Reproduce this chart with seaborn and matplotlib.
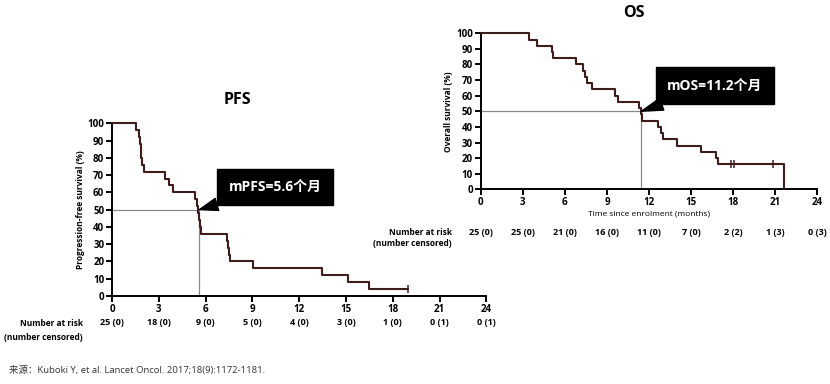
import matplotlib
matplotlib.use('Agg')
import matplotlib.pyplot as plt
import seaborn as sns
import pandas as pd

# PFS curve (months, % surviving)
pfs_time = [0, 1.55, 1.75, 1.78, 1.85, 1.87, 1.9, 2.03, 3.38, 3.64, 3.92,
            5.3, 5.42, 5.52, 5.6, 5.65, 5.72, 7.35, 7.45, 7.52, 7.58,
            9.06, 13.45, 15.14, 16.5, 19.0]
pfs_surv = [100, 96, 92, 88, 84, 80, 76, 72, 68, 64, 60,
            56, 52, 48, 44, 40, 36, 32, 28, 24, 20,
            16, 12, 8, 4, 4]
pfs_cens_time = [19.0]
pfs_cens_surv = [4]
pfs_median = 5.6
pfs_risk = ['25 (0)', '18 (0)', '9 (0)', '5 (0)', '4 (0)', '3 (0)', '1 (0)', '0 (1)', '0 (1)']

# OS curve
os_time = [0, 3.47, 4.04, 5.1, 5.13, 6.8, 7.32, 7.44, 7.6, 7.96, 9.58, 9.81,
           11.31, 11.4, 11.48, 12.67, 12.86, 13.02, 14.02, 15.68, 16.75, 16.94, 21.63]
os_surv = [100, 96, 92, 88, 84, 80, 76, 72, 68, 64, 60, 56,
           52, 48, 44, 40, 36, 32, 28, 24, 20, 16, 0]
os_cens_time = [17.85, 18.06, 20.87]
os_cens_surv = [16, 16, 16]
os_median = 11.45
os_risk = ['25 (0)', '25 (0)', '21 (0)', '16 (0)', '11 (0)', '7 (0)', '2 (2)', '1 (3)', '0 (3)']

ticks = [0, 3, 6, 9, 12, 15, 18, 21, 24]
yticks = [0, 10, 20, 30, 40, 50, 60, 70, 80, 90, 100]

sns.set_style('ticks')
plt.rcParams['font.family'] = ['Open Sans', 'Noto Sans CJK SC', 'DejaVu Sans']
plt.rcParams.update({'text.color': 'black', 'axes.labelcolor': 'black',
                     'xtick.color': 'black', 'ytick.color': 'black',
                     'axes.edgecolor': 'black'})

line_col = '#3e1c1c'
fig = plt.figure(figsize=(8.3, 3.84), dpi=100)
ax_pfs = fig.add_axes([0.1349, 0.2292, 0.4512, 0.4497])
ax_os = fig.add_axes([0.5792, 0.507, 0.4055, 0.4063])


def km_panel(ax, t, s, ct, cs, med, ylab, label, box_xy):
    df = pd.DataFrame({'t': t, 's': s})
    sns.lineplot(data=df, x='t', y='s', drawstyle='steps-post', color=line_col,
                 lw=1.5, ax=ax, clip_on=False, zorder=3)
    sns.scatterplot(x=ct, y=cs, marker='|', s=30, color=line_col, linewidth=1.1,
                    ax=ax, clip_on=False, zorder=3)
    ax.plot([0, med], [50, 50], color='#8a8a8a', lw=0.9, zorder=2)
    ax.plot([med, med], [0, 50], color='#8a8a8a', lw=0.9, zorder=2)
    ax.set_xlim(0, 24)
    ax.set_ylim(0, 100)
    ax.set_xticks(ticks)
    ax.set_yticks(yticks)
    ax.set_xlabel('')
    ax.set_ylabel(ylab, fontsize=6, fontweight='bold')
    ax.yaxis.labelpad = 2
    sns.despine(ax=ax)
    for sp in ['left', 'bottom']:
        ax.spines[sp].set_linewidth(1.4)
    ax.tick_params(width=1.4, length=4, labelsize=7, pad=1.5)
    for lbl in ax.get_yticklabels() + ax.get_xticklabels():
        lbl.set_fontweight('bold')
    ax.annotate(label, xy=(med, 50), xytext=box_xy, color='white',
                fontsize=10, fontweight='bold', ha='center', va='center',
                bbox=dict(boxstyle='square,pad=0.8', fc='black', ec='black'),
                arrowprops=dict(arrowstyle='wedge,tail_width=0.9', fc='black',
                                ec='black', shrinkA=0, shrinkB=0),
                zorder=5)


km_panel(ax_pfs, pfs_time, pfs_surv, pfs_cens_time, pfs_cens_surv, pfs_median,
         'Progression-free survival (%)', 'mPFS=5.6个月', (10.45, 63))
km_panel(ax_os, os_time, os_surv, os_cens_time, os_cens_surv, os_median,
         'Overall survival (%)', 'mOS=11.2个月', (16.7, 66.5))
ax_os.set_xlabel('Time since enrolment (months)', fontsize=6)
ax_os.xaxis.labelpad = 2

fig.text(237 / 830, 1 - 100 / 384, 'PFS', fontsize=11.5, fontweight='bold',
         ha='center', va='center')
fig.text(634 / 830, 1 - 13 / 384, 'OS', fontsize=11.5, fontweight='bold',
         ha='center', va='center')

# number at risk tables, rows placed below each x axis (pixel rows of the reference)
h_pfs = 384 * 0.4497
h_os = 384 * 0.4063
for ax, risk, h, base, r1, r2, lx in [
        (ax_pfs, pfs_risk, h_pfs, 296, 323, 337, 83),
        (ax_os, os_risk, h_os, 189.3, 232.7, 244, 452)]:
    tr = ax.get_xaxis_transform()
    y1 = -(r1 - base) / h
    for tk, r in zip(ticks, risk):
        ax.text(tk, y1, r, transform=tr, ha='center', va='center',
                fontsize=6.5, fontweight='bold', clip_on=False)
    fig.text(lx / 830, 1 - r1 / 384, 'Number at risk', ha='right', va='center',
             fontsize=6, fontweight='bold')
    fig.text(lx / 830, 1 - r2 / 384, '(number censored)', ha='right', va='center',
             fontsize=6, fontweight='bold')

fig.text(9 / 830, 1 - 370 / 384,
         '来源：Kuboki Y, et al. Lancet Oncol. 2017;18(9):1172-1181.',
         fontsize=6.8, color='#333333', ha='left', va='center')

fig.savefig('out.png', dpi=100)
